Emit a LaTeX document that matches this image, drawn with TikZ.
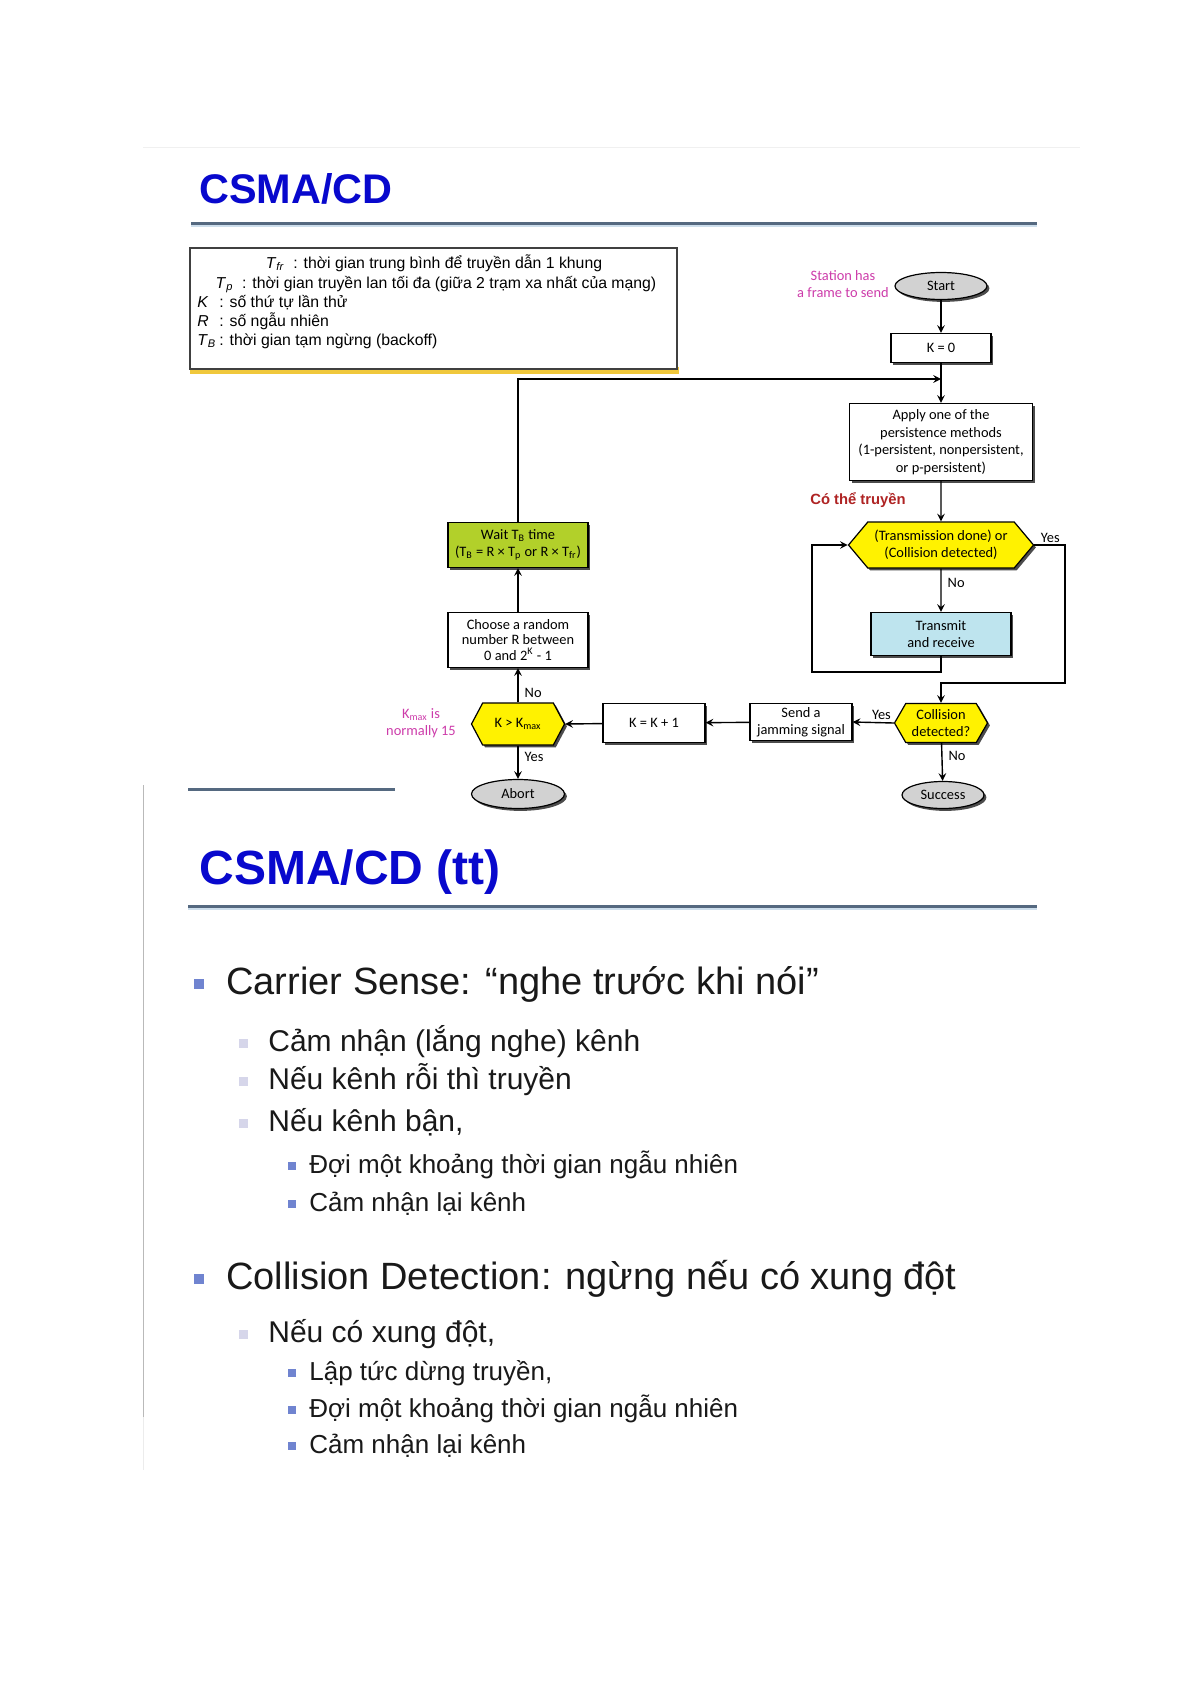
\documentclass[tikz,border=0pt]{standalone}
\usepackage{fontspec}
\setmainfont{Liberation Sans}
\newfontfamily\flowfont{Carlito}
\usetikzlibrary{shapes.geometric,shapes.symbols,shadows,positioning}

\definecolor{titleblue}{RGB}{8,8,205}
\definecolor{rulegray}{RGB}{85,105,128}
\definecolor{rulelight}{RGB}{205,222,236}
\definecolor{glow}{RGB}{240,200,60}
\definecolor{notemagenta}{RGB}{205,60,170}
\definecolor{candored}{RGB}{175,35,35}
\definecolor{decyellow}{RGB}{255,242,0}
\definecolor{waitgreen}{RGB}{178,208,42}
\definecolor{txblue}{RGB}{190,228,238}
\definecolor{termgray}{RGB}{210,210,210}
\definecolor{bulletblue}{RGB}{112,132,208}
\definecolor{bulletpale}{RGB}{214,214,234}
\definecolor{bodytext}{RGB}{25,25,25}

\tikzset{
  boxshadow/.style={drop shadow={shadow xshift=1.2pt,shadow yshift=-1.2pt,fill=black!70,opacity=1}},
  flow/.style={font=\flowfont\fontsize{7.2}{8.4}\selectfont,align=center,inner sep=0pt},
  box/.style={flow,draw,fill=white,line width=0.6pt,boxshadow},
  term/.style={flow,ellipse,draw,fill=termgray,line width=0.6pt,boxshadow},
  decision/.style={flow,signal,signal to=west and east,draw,fill=decyellow,line width=0.6pt,boxshadow},
  note/.style={flow,text=notemagenta},
  link/.style={->,line width=0.7pt},
  heading/.style={anchor=base west,inner sep=0pt,text=titleblue,font=\bfseries\fontsize{20.7}{24}\selectfont},
  legendtext/.style={anchor=base,inner sep=0pt,font=\fontsize{7.9}{9}\selectfont},
  lvlone/.style={anchor=base west,inner sep=0pt,text=bodytext,font=\fontsize{19}{22}\selectfont},
  lvltwo/.style={anchor=base west,inner sep=0pt,text=bodytext,font=\fontsize{15}{18}\selectfont},
  lvlthree/.style={anchor=base west,inner sep=0pt,text=bodytext,font=\fontsize{13}{16}\selectfont},
  bulone/.style={rectangle,fill=bulletblue,inner sep=0pt,minimum size=5pt},
  bultwo/.style={rectangle,fill=bulletpale,inner sep=0pt,minimum size=4.5pt},
  bulthree/.style={rectangle,fill=bulletblue,inner sep=0pt,minimum size=4pt}
}

\begin{document}
\begin{tikzpicture}[x=0.5pt,y=-0.5pt,>=stealth]
\useasboundingbox (0,0) rectangle (1192,1685);
\fill[white] (0,0) rectangle (1192,1685);

% slide edges
\draw[gray!12] (143,147) -- (1080,147);
\draw[gray!55,line width=0.5pt] (143,785) -- (143,1417);
\draw[gray!15] (143,1417) -- (143,1470);

% first slide
\node[heading] (title) at (199,204) {CSMA/CD};
\draw[rulelight,line width=1pt] (191,226.5) -- (1037,226.5);
\draw[rulegray,line width=1.5pt] (191,224) -- (1037,224);
\draw[rulegray,line width=1.5pt] (188,789) -- (395,789);

% legend
\fill[glow] (190,367) rectangle (679,374);
\node[draw=black!75,line width=0.6pt,fill=white,minimum width=243.5pt,minimum height=60.5pt,inner sep=0pt] (legend) at (433.5,308.5) {};
\node[legendtext] (leg1) at (434,268) {\textit{T}\textsubscript{\textit{fr}}\ \ : thời gian trung bình để truyền dẫn 1 khung};
\node[legendtext] (leg2) at (436,288) {\textit{T}\textsubscript{\textit{p}}\ \ : thời gian truyền lan tối đa (giữa 2 trạm xa nhất của mạng)};
\node[legendtext,anchor=base west] (leg3) at (197,307) {\makebox[11pt][l]{\textit{K}}: số thứ tự lần thử};
\node[legendtext,anchor=base west] (leg4) at (197,326) {\makebox[11pt][l]{\textit{R}}: số ngẫu nhiên};
\node[legendtext,anchor=base west] (leg5) at (197,345) {\makebox[11pt][l]{\textit{T}\textsubscript{\textit{B}}}: thời gian tạm ngừng (backoff)};

% flowchart
\node[term,minimum width=46pt,minimum height=13.5pt] (start) at (941,286) {Start};
\node[note] (station) at (843,284) {Station has\\a frame to send};
\node[box,minimum width=50pt,minimum height=14.5pt] (kzero) at (941,348) {K = 0};
\coordinate (merge) at (941,379);
\node[box,minimum width=91.5pt,minimum height=38.5pt,font=\flowfont\fontsize{7.2}{8.8}\selectfont] (apply) at (941,442) {Apply one of the\\persistence methods\\(1-persistent, nonpersistent,\\or p-persistent)};
\node[inner sep=0pt,text=candored,font=\bfseries\fontsize{7.4}{9}\selectfont] (cando) at (858,500) {Có thể truyền};
\node[decision,minimum width=92.5pt,minimum height=23pt,signal pointer angle=100] (done) at (941,545) {(Transmission done) or\\(Collision detected)};
\node[box,fill=txblue,minimum width=70pt,minimum height=21.5pt] (transmit) at (941,634) {Transmit\\and receive};
\coordinate (loopcorner) at (812,672);
\coordinate (yescorner) at (1065,683);
\node[decision,minimum width=46.5pt,minimum height=19.5pt,signal pointer angle=120] (collide) at (941,723) {Collision\\detected?};
\node[term,minimum width=41pt,minimum height=13.5pt] (success) at (943,795) {Success};
\node[box,minimum width=51pt,minimum height=18.5pt] (jam) at (801,722) {Send a\\jamming signal};
\node[box,minimum width=51pt,minimum height=19.5pt] (kinc) at (654,723) {K = K + 1};
\node[decision,minimum width=46.5pt,minimum height=21pt,signal pointer angle=124] (kmax) at (518,724) {K > K\textsubscript{max}};
\node[note] (kmaxnote) at (421,723) {K\textsubscript{max} is\\normally 15};
\node[term,minimum width=46.5pt,minimum height=14.5pt] (abort) at (518,794) {Abort};
\node[box,minimum width=70pt,minimum height=27.5pt,font=\flowfont\fontsize{7.2}{7.6}\selectfont] (choose) at (518,640) {Choose a random\\number R between\\0 and 2\textsuperscript{K} - 1};
\node[box,fill=waitgreen,minimum width=70pt,minimum height=22.5pt] (wait) at (518,545) {Wait T\textsubscript{B} time\\(T\textsubscript{B} = R × T\textsubscript{p} or R × T\textsubscript{fr})};

\draw[link] (start) -- (kzero);
\draw[link] (kzero) -- (apply);
\draw[link] (wait.north) |- (merge);
\draw[link] (apply) -- (done);
\draw[link] (done) -- node[flow,pos=0.32,right=3pt] {No} (transmit);
\draw[link] (transmit.south) |- (loopcorner) |- (done.west);
\draw[link] (done.east) -| node[flow,above=1pt,pos=0.26] {Yes} (yescorner) -| (collide.north);
\draw[link] (collide) -- node[flow,pos=0.35,right=3pt] {No} (success);
\draw[link] (collide.west) -- node[flow,above=1pt,pos=0.3] {Yes} (jam.east);
\draw[link] (jam) -- (kinc);
\draw[link] (kinc) -- (kmax.east);
\draw[link] (kmax.north) -- node[flow,pos=0.28,right=3pt] {No} (choose.south);
\draw[link] (kmax.south) -- node[flow,pos=0.33,right=3pt] {Yes} (abort.north);
\draw[link] (choose) -- (wait);

% second slide
\node[heading,font=\bfseries\fontsize{24}{28}\selectfont] (title2) at (199,884) {CSMA/CD (tt)};
\draw[rulelight,line width=1pt] (188,908.5) -- (1037,908.5);
\draw[rulegray,line width=1.5pt] (188,906) -- (1037,906);

\node[bulone] (bu1) at (199,984) {};
\node[lvlone] (cs) at (226,994) {Carrier Sense: “nghe trước khi nói”};
\node[bultwo] (bu2) at (243.5,1043) {};
\node[lvltwo] (cs1) at (268,1051) {Cảm nhận (lắng nghe) kênh};
\node[bultwo] (bu3) at (243.5,1081) {};
\node[lvltwo] (cs2) at (268,1089) {Nếu kênh rỗi thì truyền};
\node[bultwo] (bu4) at (243.5,1123) {};
\node[lvltwo] (cs3) at (268,1131) {Nếu kênh bận,};
\node[bulthree] (bu5) at (291.5,1166) {};
\node[lvlthree] (cs4) at (309,1173) {Đợi một khoảng thời gian ngẫu nhiên};
\node[bulthree] (bu6) at (291.5,1204) {};
\node[lvlthree] (cs5) at (309,1211) {Cảm nhận lại kênh};

\node[bulone] (bu7) at (199,1279) {};
\node[lvlone] (cd) at (226,1289) {Collision Detection: ngừng nếu có xung đột};
\node[bultwo] (bu8) at (243.5,1334) {};
\node[lvltwo] (cd1) at (268,1342) {Nếu có xung đột,};
\node[bulthree] (bu9) at (291.5,1373) {};
\node[lvlthree] (cd2) at (309,1380) {Lập tức dừng truyền,};
\node[bulthree] (bu10) at (291.5,1410) {};
\node[lvlthree] (cd3) at (309,1417) {Đợi một khoảng thời gian ngẫu nhiên};
\node[bulthree] (bu11) at (291.5,1446) {};
\node[lvlthree] (cd4) at (309,1453) {Cảm nhận lại kênh};
\end{tikzpicture}
\end{document}
